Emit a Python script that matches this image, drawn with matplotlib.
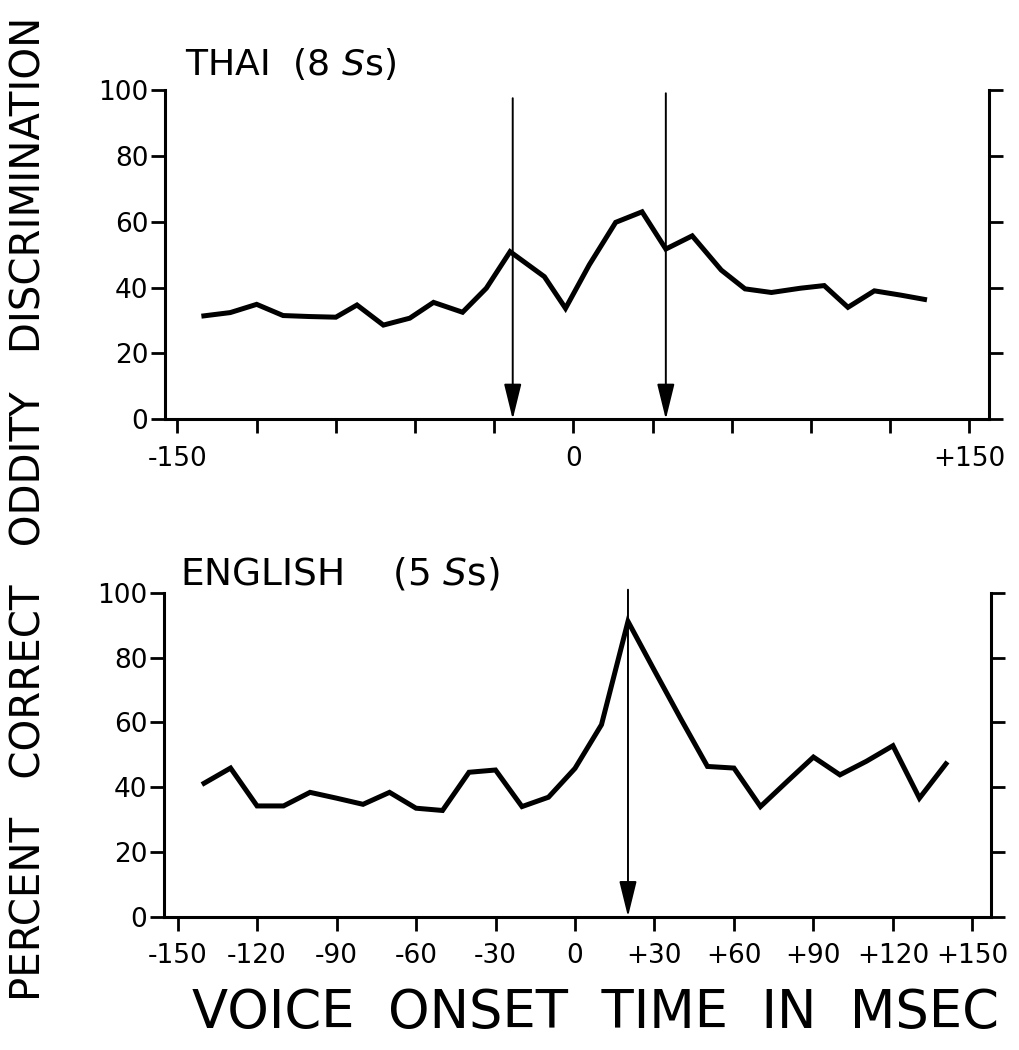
import matplotlib
matplotlib.use("Agg")
from matplotlib import pyplot as plt

plt.rcParams['font.family'] = ['DejaVu Sans']
plt.rcParams['mathtext.fontset'] = 'dejavusans'

# ______DATA______
thai_vot = [-140, -130, -120, -110, -100, -90, -82, -72, -62, -53, -42, -33, -24, -11, -3,
            6, 16, 26, 35, 45, 56, 65, 75, 86, 95, 104, 114, 124, 133]
thai_pct = [31.4, 32.4, 34.9, 31.5, 31.2, 31.0, 34.7, 28.6, 30.7, 35.5, 32.5, 39.8, 50.9, 43.3, 33.7,
            46.9, 59.8, 63.0, 51.7, 55.7, 45.3, 39.6, 38.5, 39.8, 40.6, 34.0, 39.0, 37.7, 36.4]
thai_arrows = [-23, 35]
thai_arrow_top = [97.5, 99]

eng_vot = list(range(-140, 141, 10))
eng_pct = [41.2, 45.9, 34.2, 34.2, 38.4, 36.6, 34.7, 38.4, 33.5, 32.8, 44.6, 45.3, 34.0, 36.9, 45.8,
           59.3, 91.2, 76.0, 61.0, 46.4, 45.9, 34.0, 41.7, 49.3, 43.8, 48.0, 52.8, 36.6, 47.2]
eng_arrows = [20]
eng_arrow_top = [101]

x_ticks = list(range(-150, 151, 30))
thai_xlabels = ['-150', '', '', '', '', '0', '', '', '', '', '+150']
eng_xlabels = ['-150', '-120', '-90', '-60', '-30', '0', '+30', '+60', '+90', '+120', '+150']
y_ticks = [0, 20, 40, 60, 80, 100]


def setupPanel(ax, xlim, xlabels):
    ax.set_xlim(*xlim)
    ax.set_ylim(0, 100)
    for side in ['left', 'right', 'bottom']:
        ax.spines[side].set_linewidth(2.2)
    ax.spines['top'].set_visible(False)
    ax.set_xticks(x_ticks)
    ax.set_xticklabels(xlabels)
    ax.set_yticks(y_ticks)
    ax.tick_params(axis='x', direction='out', length=10, width=2, labelsize=19, pad=9)
    ax.tick_params(axis='y', direction='out', length=10, width=2, labelsize=19, pad=2,
                   right=True, labelright=False)


def drawArrows(ax, xs, tops):
    for x, top in zip(xs, tops):
        ax.annotate('', xy=(x, 0), xytext=(x, top),
                     arrowprops=dict(arrowstyle='-|>,head_length=1.1,head_width=0.27',
                                     mutation_scale=20, lw=1.4, color='black',
                                     shrinkA=0, shrinkB=0),
                     annotation_clip=False)


fig = plt.figure(figsize=(10.19, 10.5), dpi=100)

# ______THAI______
ax1 = fig.add_axes([0.162, 0.6007, 0.809, 0.3136])
setupPanel(ax1, (-154.7, 157.6), thai_xlabels)
ax1.plot(thai_vot, thai_pct, color='black', lw=3.6, solid_joinstyle='miter')
drawArrows(ax1, thai_arrows, thai_arrow_top)
fig.text(185 / 1019, 1 - 75 / 1050, r'THAI  (8 $\mathit{S}$s)', fontsize=26, ha='left', va='baseline')

# ______ENGLISH______
ax2 = fig.add_axes([0.161, 0.1270, 0.812, 0.3083])
setupPanel(ax2, (-155.1, 157.2), eng_xlabels)
ax2.plot(eng_vot, eng_pct, color='black', lw=3.6, solid_joinstyle='miter')
drawArrows(ax2, eng_arrows, eng_arrow_top)
fig.text(180 / 1019, 1 - 584 / 1050, r'ENGLISH    (5 $\mathit{S}$s)', fontsize=27, ha='left', va='baseline')

# ______AXIS TITLES______
fig.text(30 / 1019, 1 - 509 / 1050, 'PERCENT   CORRECT   ODDITY   DISCRIMINATION', rotation=90,
         fontsize=29, ha='center', va='center')
fig.text(595 / 1019, 1 - 1013 / 1050, 'VOICE  ONSET  TIME  IN  MSEC', fontsize=38,
         ha='center', va='center')

fig.savefig('out.png', dpi=100)
